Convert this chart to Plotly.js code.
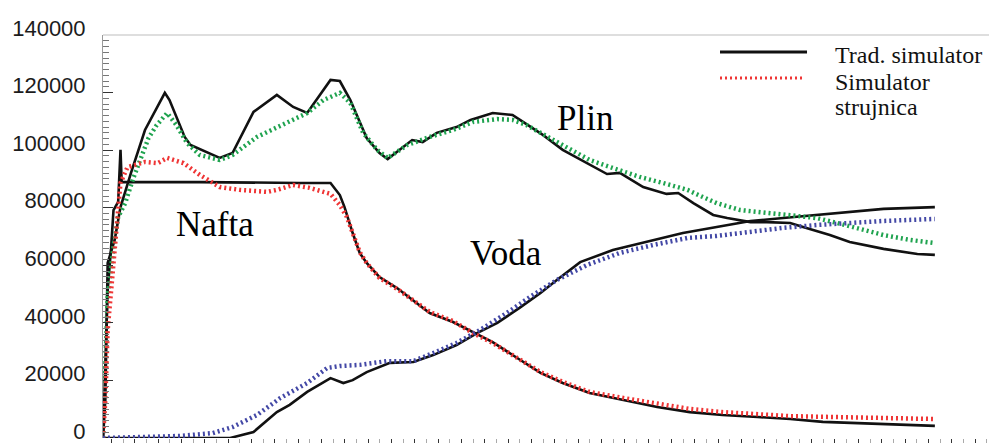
<!DOCTYPE html>
<html>
<head>
<meta charset="utf-8">
<script src="https://cdn.plot.ly/plotly-3.0.1.min.js"></script>
<style>
  html, body { margin: 0; padding: 0; background: #fff; }
  #chart { width: 989px; height: 443px; }
</style>
</head>
<body>
<div id="chart"></div>
<script>
// ---- Data (x: time steps, y: rates) ----
const plinTradX = [0, 0.2, 0.4, 1.0, 1.5, 2.4, 3.6, 4.5, 5.3, 5.7, 7.0, 7.5, 10.0, 11.1, 12.9, 14.9, 16.3, 17.5, 19.5, 20.3, 21.2, 22.6, 23.7, 24.4, 26.5, 27.4, 28.6, 30.3, 31.5, 33.4, 35.1, 36.0, 37.7, 39.4, 41.5, 43.2, 44.3, 46.3, 48.3, 49.3, 50.6, 52.3, 53.5, 55.5, 56.9, 58.9, 60.0, 62.3, 64.0, 66.9, 69.8, 71.3];
const plinTradY = [0, 13200, 60800, 68800, 80200, 92100, 107000, 113900, 119900, 117400, 104600, 101800, 97300, 99000, 113300, 119200, 115000, 112900, 124400, 124000, 117400, 104200, 99000, 96900, 103500, 102800, 106000, 108000, 110500, 112900, 112200, 109800, 105300, 100100, 95500, 91700, 92100, 87200, 84800, 85100, 81600, 77500, 76400, 75000, 75000, 74700, 73300, 70500, 68100, 65700, 63900, 63600];

const plinStrX = [0, 0.2, 0.4, 0.9, 1.3, 1.9, 2.6, 3.9, 4.6, 5.5, 6.3, 7.2, 8.3, 10.0, 11.1, 13.2, 14.9, 16.6, 17.5, 18.9, 20.3, 21.2, 22.3, 23.5, 24.4, 26.1, 28.0, 30.0, 31.7, 33.8, 35.1, 36.3, 38.1, 39.8, 41.7, 43.7, 46.0, 48.0, 50.1, 51.2, 52.6, 54.6, 56.9, 59.1, 61.2, 62.9, 64.6, 66.9, 69.2, 71.3];
const plinStrY = [0, 26100, 49000, 66400, 76800, 81600, 90300, 104200, 108700, 112900, 108700, 102500, 98300, 96600, 98300, 104600, 108000, 111500, 112900, 117400, 119900, 116400, 106000, 100100, 97300, 101800, 104600, 107000, 109800, 110800, 110500, 108700, 104600, 101100, 96600, 93800, 90700, 88600, 86200, 84100, 81600, 79200, 78200, 77500, 76400, 74700, 73000, 70500, 68800, 67700];

const naftaTradX = [0, 0.1, 0.3, 0.4, 0.7, 0.9, 1.3, 1.5, 1.6, 2.3, 8.3, 16.9, 19.5, 20.3, 20.7, 21.4, 22.0, 22.6, 23.7, 25.2, 26.3, 28.0, 30.0, 31.7, 33.4, 35.5, 37.5, 39.4, 41.7, 44.6, 47.5, 50.3, 53.1, 56.1, 58.9, 61.7, 64.6, 67.5, 71.3];
const naftaTradY = [0, 13200, 37500, 51400, 66400, 79200, 82000, 100100, 88900, 88900, 88900, 88600, 88600, 84400, 80200, 71200, 64300, 60800, 55900, 52100, 48600, 43400, 40300, 36800, 33300, 27800, 22600, 19100, 15600, 13200, 10800, 9000, 8000, 7300, 6600, 5600, 5200, 4900, 4200];

const naftaStrX = [0, 0.2, 0.4, 0.7, 1.1, 1.5, 2.1, 3.6, 4.7, 5.5, 6.9, 8.3, 10.0, 11.7, 14.1, 14.9, 16.3, 17.7, 19.5, 20.3, 20.9, 21.4, 22.0, 22.6, 23.7, 25.2, 26.3, 28.0, 30.0, 31.7, 33.4, 35.5, 37.5, 39.4, 41.7, 44.6, 47.5, 50.3, 53.1, 56.1, 58.9, 62.6, 66.0, 71.3];
const naftaStrY = [0, 13200, 37500, 51400, 72300, 88600, 94100, 95900, 95500, 97300, 95500, 91400, 87200, 86200, 85500, 86200, 87900, 86900, 84800, 80900, 76800, 71200, 64600, 60800, 55600, 51800, 48600, 43800, 40600, 36500, 33000, 27800, 22900, 19500, 16000, 13900, 11800, 10100, 9000, 8300, 7600, 7300, 6900, 6600];

const vodaTradX = [0, 10.9, 12.9, 14.9, 16.0, 17.5, 19.5, 20.6, 21.4, 22.6, 24.6, 26.6, 28.3, 30.3, 32.1, 33.8, 35.7, 37.5, 38.9, 40.9, 43.7, 46.6, 49.7, 52.6, 55.5, 58.3, 61.2, 64.0, 66.9, 71.3];
const vodaTradY = [0, 0, 2100, 9000, 11500, 16000, 20800, 19100, 20100, 22900, 26100, 26400, 28800, 32300, 36500, 40000, 45200, 50400, 54900, 61100, 65300, 68100, 71200, 73300, 75400, 76400, 77500, 78500, 79600, 80200];

const vodaStrX = [0, 3.2, 6.6, 9.4, 11.1, 13.2, 15.2, 17.5, 19.2, 20.3, 22.0, 24.3, 26.6, 28.3, 30.3, 32.3, 34.6, 36.6, 38.9, 41.5, 44.3, 47.1, 50.1, 52.6, 55.5, 58.3, 61.2, 64.0, 66.9, 71.3];
const vodaStrY = [0, 300, 700, 1700, 3800, 8000, 13900, 19100, 24300, 25000, 25400, 26700, 26700, 29500, 33000, 37500, 43400, 49000, 54900, 60100, 64300, 67000, 69500, 70200, 71600, 73000, 74000, 74700, 75400, 76100];

const yTickVals = [0, 20000, 40000, 60000, 80000, 100000, 120000, 140000];
const yTickText = ["0", "20000", "40000", "60000", "80000", "100000", "120000", "140000"];
const seriesLabels = ["Plin", "Nafta", "Voda"];
const legendLabels = ["Trad. simulator", "Simulator", "strujnica"];

// ---- Styles ----
const BLACK = '#111111';
const GREEN = '#1fa34f';
const RED = '#ef3535';
const BLUE = '#4348a6';
const solid = { color: BLACK, width: 2.6 };
const dotted = (c) => ({ color: c, width: 4.5, dash: '2px,3px' });

const traces = [
  { x: plinTradX, y: plinTradY, mode: 'lines', line: solid, name: 'Plin - Trad. simulator' },
  { x: naftaTradX, y: naftaTradY, mode: 'lines', line: solid, name: 'Nafta - Trad. simulator' },
  { x: vodaTradX, y: vodaTradY, mode: 'lines', line: solid, name: 'Voda - Trad. simulator' },
  { x: plinStrX, y: plinStrY, mode: 'lines', line: dotted(GREEN), name: 'Plin - Simulator strujnica' },
  { x: naftaStrX, y: naftaStrY, mode: 'lines', line: dotted(RED), name: 'Nafta - Simulator strujnica' },
  { x: vodaStrX, y: vodaStrY, mode: 'lines', line: dotted(BLUE), name: 'Voda - Simulator strujnica' }
];

const serif = 'Liberation Serif, Times New Roman, serif';

const layout = {
  width: 989, height: 443,
  margin: { l: 103, r: 0, t: 35, b: 5, pad: 0 },
  paper_bgcolor: '#ffffff', plot_bgcolor: '#ffffff',
  showlegend: false,
  xaxis: {
    range: [0, 75.94], showgrid: false, zeroline: false, showline: false,
    showticklabels: false, ticks: 'outside', ticklen: 7, tickcolor: '#333', tickwidth: 1,
    tick0: 0.74, dtick: 2,
    minor: { ticks: 'outside', ticklen: 6, tickcolor: '#aaa', tick0: 0.74, dtick: 1 }
  },
  yaxis: {
    range: [0, 140000], showgrid: false, zeroline: false,
    showline: true, linecolor: '#9a9a9a', linewidth: 1,
    tickmode: 'array', tickvals: yTickVals, ticktext: yTickText,
    ticks: 'inside', ticklen: 10, tickcolor: '#333', tickwidth: 1,
    minor: { ticks: 'inside', ticklen: 6, tickcolor: '#777', dtick: 2000 },
    tickfont: { family: 'Liberation Sans, Arial, sans-serif', size: 22, color: '#1c1c1c' },
    ticklabelstandoff: 12, ticklabelshift: -7, ticklabeloverflow: 'allow'
  },
  shapes: [
    { type: 'line', xref: 'paper', yref: 'paper', x0: 0, x1: 1, y0: 1, y1: 1, line: { color: '#bdbdbd', width: 1 } },
    { type: 'line', xref: 'paper', yref: 'paper', x0: 0.6964, x1: 0.7946, y0: 0.9578, y1: 0.9578, line: { color: BLACK, width: 3 } },
    { type: 'line', xref: 'paper', yref: 'paper', x0: 0.6964, x1: 0.7923, y0: 0.8933, y1: 0.8933, line: { color: RED, width: 3, dash: '2px,3px' } }
  ],
  annotations: [
    { text: seriesLabels[0], xref: 'paper', yref: 'paper', x: 0.544, y: 0.7916, xanchor: 'center', yanchor: 'middle', showarrow: false, font: { family: serif, size: 35, color: '#000' } },
    { text: seriesLabels[1], xref: 'paper', yref: 'paper', x: 0.1264, y: 0.531, xanchor: 'center', yanchor: 'middle', showarrow: false, font: { family: serif, size: 35, color: '#000' } },
    { text: seriesLabels[2], xref: 'paper', yref: 'paper', x: 0.4549, y: 0.4566, xanchor: 'center', yanchor: 'middle', showarrow: false, font: { family: serif, size: 35, color: '#000' } },
    { text: legendLabels[0], xref: 'paper', yref: 'paper', x: 0.8239, y: 0.9504, xanchor: 'left', yanchor: 'middle', showarrow: false, font: { family: serif, size: 24, color: '#111' } },
    { text: legendLabels[1], xref: 'paper', yref: 'paper', x: 0.8239, y: 0.8834, xanchor: 'left', yanchor: 'middle', showarrow: false, font: { family: serif, size: 24, color: '#111' } },
    { text: legendLabels[2], xref: 'paper', yref: 'paper', x: 0.8239, y: 0.8213, xanchor: 'left', yanchor: 'middle', showarrow: false, font: { family: serif, size: 24, color: '#111' } }
  ]
};

Plotly.newPlot('chart', traces, layout, { staticPlot: true, displayModeBar: false });
</script>
</body>
</html>
